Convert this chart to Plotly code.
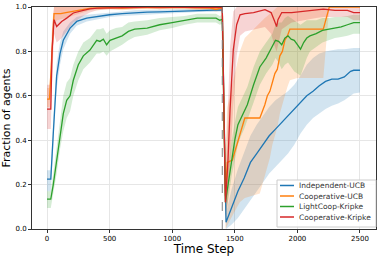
import plotly.graph_objects as go

# ---- data ----
t_blue = [0, 30, 50, 64, 77, 104, 130, 184, 237, 317, 397, 500, 600, 700, 800, 900, 1000, 1100, 1200, 1300, 1350, 1400,
          1430, 1475, 1525, 1575, 1625, 1675, 1725, 1775, 1825, 1875, 1925, 1975, 2025, 2075, 2125, 2175, 2225, 2275, 2325, 2375, 2425, 2450, 2500]
blue = [0.225, 0.225, 0.43, 0.60, 0.69, 0.79, 0.85, 0.905, 0.935, 0.95, 0.958, 0.965, 0.97, 0.975, 0.977, 0.978, 0.98, 0.982, 0.985, 0.985, 0.985, 0.987,
        0.03, 0.10, 0.17, 0.23, 0.30, 0.34, 0.38, 0.42, 0.45, 0.48, 0.51, 0.54, 0.57, 0.60, 0.62, 0.645, 0.665, 0.675, 0.675, 0.685, 0.71, 0.715, 0.715]
blue_lo = [0.17, 0.17, 0.37, 0.54, 0.63, 0.74, 0.81, 0.88, 0.915, 0.935, 0.945, 0.955, 0.96, 0.965, 0.968, 0.97, 0.972, 0.975, 0.978, 0.978, 0.978, 0.98,
           0.0, 0.02, 0.05, 0.09, 0.13, 0.17, 0.21, 0.25, 0.28, 0.31, 0.34, 0.38, 0.43, 0.47, 0.50, 0.52, 0.54, 0.555, 0.565, 0.58, 0.60, 0.61, 0.615]
blue_hi = [0.265, 0.265, 0.50, 0.66, 0.75, 0.84, 0.89, 0.93, 0.955, 0.965, 0.97, 0.975, 0.98, 0.985, 0.986, 0.987, 0.988, 0.989, 0.992, 0.992, 0.992, 0.994,
           0.07, 0.18, 0.27, 0.35, 0.42, 0.47, 0.51, 0.55, 0.58, 0.60, 0.62, 0.65, 0.69, 0.74, 0.77, 0.79, 0.80, 0.805, 0.81, 0.81, 0.815, 0.815, 0.815]

t_orange = [0, 20, 40, 56, 80, 110, 150, 210, 290, 350, 400, 500, 600, 700, 800, 900, 1000, 1100, 1200, 1300, 1350, 1400,
            1425, 1440, 1480, 1500, 1540, 1580, 1700, 1720, 1740, 1760, 1780, 1800, 1820, 1840, 1860, 1880, 1900, 1920, 1940, 2000, 2100, 2207, 2255, 2300, 2400, 2500]
orange = [0.585, 0.585, 0.80, 0.97, 0.97, 0.97, 0.975, 0.98, 0.99, 0.995, 0.995, 0.997, 0.995, 0.997, 0.998, 0.997, 0.998, 0.997, 0.996, 0.995, 0.99, 0.995,
          0.15, 0.30, 0.31, 0.35, 0.43, 0.50, 0.50, 0.53, 0.56, 0.60, 0.62, 0.66, 0.70, 0.72, 0.78, 0.80, 0.85, 0.87, 0.90, 0.90, 0.90, 0.90, 1.0, 1.0, 1.0, 1.0]
orange_lo = [0.55, 0.55, 0.70, 0.93, 0.94, 0.945, 0.95, 0.96, 0.975, 0.985, 0.985, 0.99, 0.985, 0.99, 0.99, 0.99, 0.99, 0.99, 0.985, 0.985, 0.98, 0.985,
             0.0, 0.02, 0.06, 0.08, 0.12, 0.14, 0.16, 0.20, 0.24, 0.28, 0.32, 0.38, 0.42, 0.46, 0.52, 0.56, 0.60, 0.64, 0.67, 0.68, 0.68, 0.68, 1.0, 1.0, 1.0, 1.0]
orange_hi = [0.635, 0.635, 0.90, 1.0, 1.0, 1.0, 1.0, 1.0, 1.0, 1.0, 1.0, 1.0, 1.0, 1.0, 1.0, 1.0, 1.0, 1.0, 1.0, 1.0, 1.0, 1.0,
             0.35, 0.55, 0.65, 0.70, 0.80, 0.86, 0.93, 0.94, 0.95, 0.96, 0.97, 0.98, 0.99, 1.0, 1.0, 1.0, 1.0, 1.0, 1.0, 1.0, 1.0, 1.0, 1.0, 1.0, 1.0, 1.0]

t_green = [0, 30, 50, 77, 104, 130, 157, 184, 210, 250, 290, 343, 397, 423, 450, 476, 503, 550, 600, 650, 700, 800, 900, 1000, 1100, 1200, 1300, 1350, 1380, 1400,
           1425, 1450, 1475, 1500, 1525, 1550, 1575, 1600, 1650, 1700, 1750, 1800, 1825, 1850, 1875, 1900, 1925, 1950, 1975, 2000, 2025, 2050, 2075, 2100, 2150, 2200, 2250, 2300, 2350, 2400, 2450, 2500]
green = [0.135, 0.135, 0.20, 0.31, 0.43, 0.52, 0.58, 0.60, 0.67, 0.74, 0.78, 0.806, 0.85, 0.845, 0.855, 0.83, 0.85, 0.86, 0.87, 0.89, 0.90, 0.905, 0.92, 0.93, 0.94, 0.95, 0.95, 0.95, 0.94, 0.945,
         0.12, 0.22, 0.32, 0.40, 0.47, 0.50, 0.53, 0.56, 0.65, 0.73, 0.77, 0.82, 0.85, 0.845, 0.83, 0.86, 0.87, 0.855, 0.85, 0.83, 0.81, 0.84, 0.86, 0.87, 0.88, 0.895, 0.90, 0.905, 0.91, 0.92, 0.93, 0.93]
green_lo = [0.095, 0.095, 0.15, 0.25, 0.36, 0.44, 0.50, 0.53, 0.60, 0.67, 0.72, 0.75, 0.79, 0.79, 0.80, 0.78, 0.80, 0.815, 0.83, 0.85, 0.865, 0.875, 0.895, 0.905, 0.92, 0.93, 0.93, 0.93, 0.92, 0.925,
            0.06, 0.14, 0.24, 0.31, 0.38, 0.42, 0.45, 0.48, 0.57, 0.65, 0.70, 0.74, 0.77, 0.75, 0.72, 0.74, 0.75, 0.73, 0.71, 0.70, 0.69, 0.73, 0.77, 0.80, 0.82, 0.84, 0.85, 0.86, 0.865, 0.87, 0.88, 0.88]
green_hi = [0.17, 0.17, 0.25, 0.37, 0.50, 0.60, 0.66, 0.68, 0.74, 0.80, 0.84, 0.86, 0.90, 0.90, 0.905, 0.88, 0.895, 0.905, 0.91, 0.93, 0.935, 0.94, 0.95, 0.955, 0.96, 0.97, 0.97, 0.97, 0.96, 0.965,
            0.18, 0.30, 0.40, 0.48, 0.55, 0.58, 0.61, 0.64, 0.73, 0.80, 0.84, 0.88, 0.92, 0.93, 0.93, 0.95, 0.96, 0.95, 0.94, 0.93, 0.92, 0.93, 0.94, 0.94, 0.94, 0.95, 0.95, 0.955, 0.955, 0.96, 0.965, 0.965]

t_red = [0, 30, 40, 56, 77, 117, 157, 210, 290, 343, 400, 500, 600, 700, 800, 900, 1000, 1100, 1200, 1300, 1350, 1400,
         1425, 1445, 1462, 1488, 1515, 1542, 1582, 1650, 1741, 1790, 1815, 1834, 1845, 1875, 1954, 2050, 2150, 2207, 2300, 2400, 2450, 2500]
red = [0.54, 0.54, 0.80, 0.943, 0.912, 0.935, 0.95, 0.973, 0.985, 0.992, 0.995, 0.997, 0.998, 0.998, 0.999, 0.998, 0.999, 0.999, 0.998, 0.998, 0.997, 0.998,
       0.12, 0.30, 0.536, 0.807, 0.92, 0.965, 0.97, 0.975, 0.988, 0.975, 0.94, 0.912, 0.943, 0.975, 0.975, 0.98, 0.985, 0.99, 0.985, 0.985, 0.975, 0.975]
red_lo = [0.45, 0.45, 0.65, 0.88, 0.84, 0.86, 0.89, 0.93, 0.96, 0.975, 0.985, 0.99, 0.99, 0.99, 0.995, 0.99, 0.995, 0.995, 0.99, 0.99, 0.99, 0.99,
          0.05, 0.12, 0.25, 0.55, 0.78, 0.87, 0.89, 0.90, 0.91, 0.88, 0.83, 0.80, 0.82, 0.90, 0.93, 0.94, 0.95, 0.955, 0.955, 0.955, 0.94, 0.94]
red_hi = [0.65, 0.65, 0.92, 1.0, 1.0, 1.0, 1.0, 1.0, 1.0, 1.0, 1.0, 1.0, 1.0, 1.0, 1.0, 1.0, 1.0, 1.0, 1.0, 1.0, 1.0, 1.0,
          0.22, 0.55, 0.82, 0.98, 1.0, 1.0, 1.0, 1.0, 1.0, 1.0, 1.0, 1.0, 1.0, 1.0, 1.0, 1.0, 1.0, 1.0, 1.0, 1.0, 1.0, 1.0]

series_names = ["Independent-UCB", "Cooperative-UCB", "LightCoop-Kripke", "Cooperative-Kripke"]
series = [
    (series_names[0], t_blue, blue, blue_lo, blue_hi, "#1f77b4", "rgba(31,119,180,0.2)"),
    (series_names[1], t_orange, orange, orange_lo, orange_hi, "#ff7f0e", "rgba(255,127,14,0.2)"),
    (series_names[2], t_green, green, green_lo, green_hi, "#2ca02c", "rgba(44,160,44,0.2)"),
    (series_names[3], t_red, red, red_lo, red_hi, "#d62728", "rgba(214,39,40,0.2)"),
]
change_step = 1400
x_ticks = [0, 500, 1000, 1500, 2000, 2500]
y_ticks = [0.0, 0.2, 0.4, 0.6, 0.8, 1.0]

W, H = 381, 256
ML, MR, MT, MB = 32, 5, 7, 27
PW, PH = W - ML - MR, H - MT - MB

def px_x(px):
    return (px - ML) / PW

def px_y(py):
    return (H - MB - py) / PH

fig = go.Figure()
for name, t, m, lo, hi, col, fcol in series:
    fig.add_trace(go.Scatter(x=list(t) + list(t)[::-1], y=list(hi) + list(lo)[::-1],
                             fill="toself", fillcolor=fcol, line=dict(width=0),
                             mode="lines", showlegend=False, hoverinfo="skip"))
for name, t, m, lo, hi, col, fcol in series:
    fig.add_trace(go.Scatter(x=t, y=m, mode="lines", name=name, showlegend=False,
                             line=dict(color=col, width=1.3)))

fig.add_shape(type="line", xref="x", yref="paper", x0=change_step, x1=change_step, y0=0, y1=1,
              line=dict(color="#808080", width=1, dash="dash"))

# legend box (lower right), drawn like matplotlib's compact legend
fig.add_shape(type="rect", xref="paper", yref="paper",
              x0=px_x(277), x1=px_x(376), y0=px_y(227), y1=px_y(180),
              line=dict(color="#cccccc", width=1), fillcolor="rgba(255,255,255,0.85)", layer="above")
row_y = [185.5, 196, 206.5, 217]
for (name, t, m, lo, hi, col, fcol), ry in zip(series, row_y):
    fig.add_shape(type="line", xref="paper", yref="paper",
                  x0=px_x(280), x1=px_x(294), y0=px_y(ry), y1=px_y(ry),
                  line=dict(color=col, width=1.5), layer="above")
    fig.add_annotation(xref="paper", yref="paper", x=px_x(297), y=px_y(ry),
                       xanchor="left", yanchor="middle", text=name, showarrow=False,
                       font=dict(size=7.5, color="#333333", family="DejaVu Sans"))

fig.update_layout(
    width=W, height=H,
    margin=dict(l=ML, r=MR, t=MT, b=MB, autoexpand=False),
    paper_bgcolor="white", plot_bgcolor="white",
    font=dict(family="DejaVu Sans", size=7, color="black"),
    showlegend=False,
)
fig.update_xaxes(range=[-120, 2628], tickvals=x_ticks, showgrid=True, gridcolor="#e6e6e6", gridwidth=1,
                 showline=True, linecolor="#333333", linewidth=1, mirror=True, ticks="outside", ticklen=3,
                 tickcolor="#333333", zeroline=False, automargin=False,
                 title=dict(text="Time Step", font=dict(size=12), standoff=0))
fig.update_yaxes(range=[0, 1.0], tickvals=y_ticks, tickformat=".1f", showgrid=True, gridcolor="#e6e6e6", gridwidth=1,
                 showline=True, linecolor="#333333", linewidth=1, mirror=True, ticks="outside", ticklen=3,
                 tickcolor="#333333", zeroline=False, automargin=False,
                 title=dict(text="Fraction of agents", font=dict(size=11), standoff=4))

fig.write_html("out.html", config={"displayModeBar": False},
               post_script="document.body.style.margin='0px';document.body.style.overflow='hidden';")
